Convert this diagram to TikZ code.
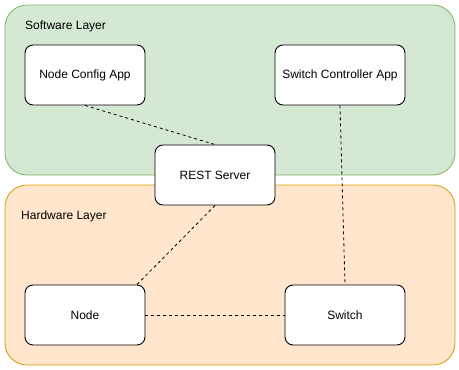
\documentclass[tikz,border=0pt]{standalone}
\usepackage{fontspec}
\setmainfont{Liberation Sans}
\definecolor{swfill}{HTML}{D5E8D4}
\definecolor{swline}{HTML}{82B366}
\definecolor{hwfill}{HTML}{FFE6CC}
\definecolor{hwline}{HTML}{D79B00}
\begin{document}
\begin{tikzpicture}[x=1pt,y=-1pt,
  layer/.style={draw, line width=0.8pt, rounded corners=22pt},
  appbox/.style={draw=black, fill=white, line width=0.9pt, rounded corners=8pt,
    font=\fontsize{12}{14}\selectfont},
  link/.style={draw=black, line width=0.8pt, dash pattern=on 3pt off 3pt},
  layerlabel/.style={anchor=west, font=\fontsize{12}{14}\selectfont, inner sep=0pt}]
\useasboundingbox (0,0) rectangle (459,370);
% layers
\path[layer, draw=swline, fill=swfill] (5,5) rectangle (455,175);
\path[layer, draw=hwline, fill=hwfill] (5,185) rectangle (455,365);
\node[layerlabel] (swl) at (25,26) {Software Layer};
\node[layerlabel] (hwl) at (21,216) {Hardware Layer};
% components
\node[appbox, minimum width=120pt, minimum height=60pt] (nca) at (85,75) {Node Config App};
\node[appbox, minimum width=130pt, minimum height=60pt] (sca) at (340,75) {Switch Controller App};
\node[appbox, minimum width=120pt, minimum height=60pt] (rest) at (215,175) {REST Server};
\node[appbox, minimum width=120pt, minimum height=60pt] (node) at (85,315) {Node};
\node[appbox, minimum width=120pt, minimum height=60pt] (sw) at (345,315) {Switch};
% connections
\coordinate (nodeT) at ([xshift=52pt]node.north);
\draw[link] (nca.south) -- (rest.north);
\draw[link] (sca.south) -- (sw.north);
\draw[link] (rest.south) -- (nodeT);
\draw[link] (node.east) -- (sw.west);
\end{tikzpicture}
\end{document}
